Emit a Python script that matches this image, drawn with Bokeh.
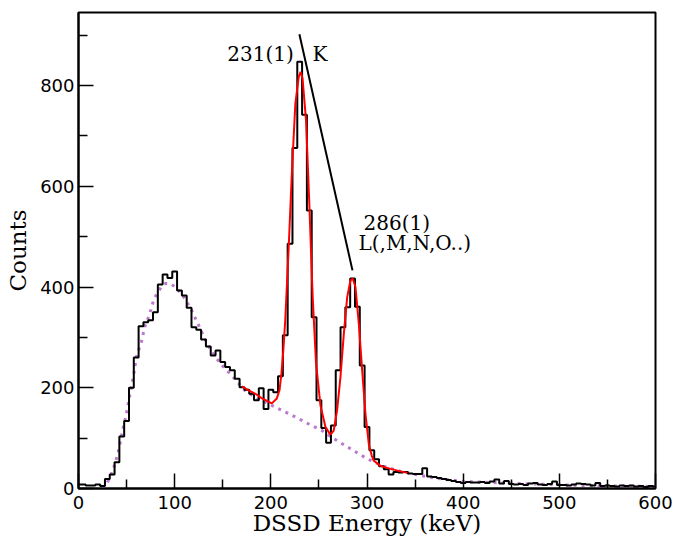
from bokeh.plotting import figure
from bokeh.models import FixedTicker, Range1d
from bokeh.core.properties import value
from bokeh.embed import file_html
from bokeh.resources import INLINE

# ---- data ----
bin_centers = list(range(0, 605, 5))
counts = [
    8, 8, 6, 6, 8, 5, 19, 28, 52, 103,          # 0-45
    134, 200, 260, 322, 330, 334, 350, 405, 425, 418,   # 50-95
    431, 393, 383, 359, 320, 315, 296, 282, 264, 274,   # 100-145
    251, 241, 235, 218, 201, 196, 188, 175, 199, 158,   # 150-195
    196, 191, 223, 304, 486, 676, 847, 742, 552, 340,   # 200-245
    175, 120, 91, 125, 235, 320, 360, 417, 361, 244,    # 250-295
    122, 76, 58, 44, 38, 28, 33, 32, 33, 30,            # 300-345
    29, 29, 40, 24, 23, 21, 19, 17, 15, 13,             # 350-395
    11, 13, 12, 12, 13, 11, 14, 18, 10, 15,             # 400-445
    9, 8, 9, 7, 10, 11, 8, 7, 9, 14,                    # 450-495
    7, 7, 6, 8, 10, 9, 8, 6, 11, 5,                     # 500-545
    6, 5, 4, 6, 5, 6, 4, 5, 3, 5,                       # 550-595
    4,                                                  # 600
]

fit_x = [170, 176, 184, 190, 196, 201, 206, 209, 211, 213, 215, 218.6, 222,
         225.5, 229, 231, 233, 236.6, 240, 243.5, 247, 251.6, 256.8, 262,
         265.4, 268.9, 272.4, 275.9, 279.4, 282.8, 285.2, 288, 291.5, 295,
         298.4, 301.9, 305, 307.1, 314, 324.5, 335, 342]
fit_y = [203, 196, 188, 180, 174, 169, 178, 195, 228, 275, 334, 480, 632,
         764, 817, 827, 814, 731, 566, 381, 249, 165, 122, 107,
         115, 155, 221, 307, 380, 413, 417, 400, 327, 234,
         148, 88, 65, 55, 45, 39, 34, 31]

bg_x = [25, 27.6, 32.8, 38, 41.5, 46, 49.5, 52.6, 55.4, 57.8, 60.2, 65.4, 68.9,
        74.1, 78.6, 82.8, 86.3, 90.4, 94.9, 101.2, 105.4, 110.6, 117.5, 124.5,
        131.4, 138.3, 145.3, 152.2, 159.2, 164.4, 173.4, 183.9, 197.7, 211.7,
        225.5, 239.4, 253.3, 265.4, 282.8, 300.2, 317.5, 334.9, 352.3, 373.1,
        400.8, 428.6, 456.5, 491.1, 525.8, 560.6, 600]
bg_y = [0, 4, 22, 49, 74, 117, 145, 178, 205, 231, 261, 291, 321,
        347, 377, 390, 401, 407, 407, 400, 390, 377, 354, 326,
        297, 272, 254, 238, 225, 213, 194, 181, 168, 155,
        142, 128, 115, 99, 79, 59, 44, 34, 27, 20,
        14, 12, 10, 8, 6, 5, 4]

marker_x = [229.7, 284.9]
marker_y = [902, 433]

label_texts = ["231(1)", "K", "286(1)", "L(,M,N,O..)"]
label_x = [154.7, 243.2, 296.4, 291.1]
label_y = [863, 863, 528, 488]

x_major = [0, 100, 200, 300, 400, 500, 600]
x_minor = [50, 150, 250, 350, 450, 550]
y_major = [0, 200, 400, 600, 800]
y_minor = [100, 300, 500, 700, 900]

# ---- figure ----
p = figure(width=677, height=538, output_backend="svg", toolbar_location=None,
           x_range=Range1d(0, 600), y_range=Range1d(0, 945),
           min_border_left=78, min_border_right=22, min_border_top=12,
           min_border_bottom=50)
p.background_fill_color = "white"
p.border_fill_color = "white"
p.outline_line_color = "black"
p.outline_line_width = 2
p.grid.visible = False

for ax, maj, mnr, stand in ((p.xaxis[0], x_major, x_minor, 7),
                            (p.yaxis[0], y_major, y_minor, 4)):
    ax.ticker = FixedTicker(ticks=maj, minor_ticks=mnr)
    ax.axis_line_width = 2
    ax.axis_line_color = "black"
    ax.major_tick_in = 15
    ax.major_tick_out = 0
    ax.minor_tick_in = 9
    ax.minor_tick_out = 0
    ax.major_tick_line_width = 1.5
    ax.minor_tick_line_width = 1.5
    ax.major_tick_line_color = "black"
    ax.minor_tick_line_color = "black"
    ax.major_label_text_font = "DejaVu Sans"
    ax.major_label_text_font_size = "18px"
    ax.major_label_text_color = "black"
    ax.major_label_standoff = stand
    ax.axis_label_text_font = "DejaVu Serif"
    ax.axis_label_text_font_style = "normal"
    ax.axis_label_text_font_size = "23px"
    ax.axis_label_text_color = "black"

p.xaxis.axis_label = "DSSD Energy (keV)"
p.yaxis.axis_label = "Counts"
p.xaxis.axis_label_standoff = -2
p.yaxis.axis_label_standoff = 6

# background (dotted)
p.line(bg_x, bg_y, line_color="#bb78cc", line_width=3, line_dash="3 5")
# histogram
p.step(bin_centers, counts, mode="center", line_color="black", line_width=2)
# fit
p.line(fit_x, fit_y, line_color="red", line_width=2)
# marker line
p.line(marker_x, marker_y, line_color="black", line_width=2)
# labels
p.text(label_x, label_y, text=label_texts, text_font=value("DejaVu Serif"),
       text_font_size="20px", text_color="black", text_align="left",
       text_baseline="alphabetic")

open("out.html", "w").write(file_html(p, INLINE))
